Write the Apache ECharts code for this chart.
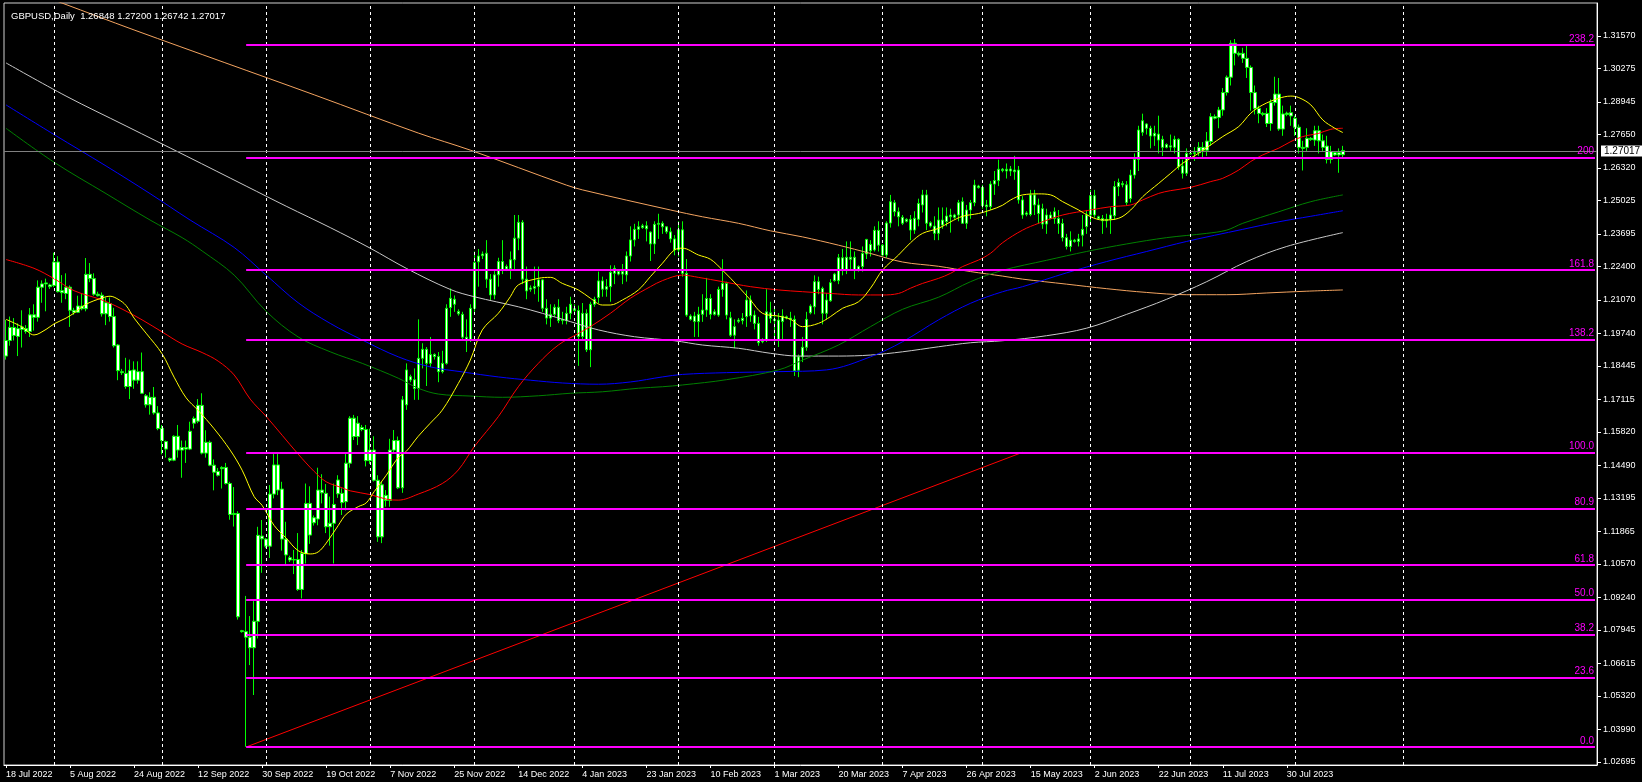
<!DOCTYPE html>
<html><head><meta charset="utf-8">
<script src="https://cdn.jsdelivr.net/npm/echarts@6/dist/echarts.min.js"></script>
<style>html,body{margin:0;padding:0;background:#000;}#c{width:1642px;height:782px;}</style>
</head><body><div id="c"></div>
<script>
// ---------- data ----------
const startDate = '2022-07-18';
const skipDates = ['2022-12-25','2023-01-01','2023-06-18'];
const totalSlots = 398;
const gridSlotsShown = 360;
const titleText = 'GBPUSD,Daily  1.26848 1.27200 1.26742 1.27017';
const lastPrice = 1.27017;
const yTicks = [1.02695,1.03990,1.05320,1.06615,1.07945,1.09240,1.10570,1.11865,1.13195,1.14490,1.15820,1.17115,1.18445,1.19740,1.21070,1.22400,1.23695,1.25025,1.26320,1.27650,1.28945,1.30275,1.31570];
const fibLevels = [0, 23.6, 38.2, 50, 61.8, 80.9, 100, 138.2, 161.8, 200, 238.2];
const fibLabels = ['0.0','23.6','38.2','50.0','61.8','80.9','100.0','138.2','161.8','200','238.2'];
const fibLow = 1.03292, fibHigh = 1.15013;
const fibStartIdx = 60, fibEndIdx = 254;

// [open, close, low, high]
const candles = [
[1.1884,1.1946,1.1870,1.2028],[1.1946,1.1998,1.1925,1.2041],[1.1998,1.1966,1.1946,1.2035],[1.1962,1.1993,1.1884,1.2014],[1.1990,1.2000,1.1918,1.2066],[1.1993,1.1982,1.1973,1.2007],
[1.1982,1.2048,1.1960,1.2075],[1.2048,1.2038,1.1985,1.2090],[1.2038,1.2158,1.2021,1.2185],[1.2158,1.2171,1.2096,1.2185],[1.2171,1.2175,1.2062,1.2192],[1.2167,1.2160,1.2151,1.2172],
[1.2165,1.2258,1.2158,1.2295],[1.2258,1.2140,1.2137,1.2281],[1.2136,1.2144,1.2096,1.2206],[1.2133,1.2158,1.2110,1.2213],[1.2158,1.2066,1.2000,1.2165],[1.2066,1.2058,1.2048,1.2076],
[1.2058,1.2083,1.2055,1.2124],[1.2083,1.2072,1.2066,1.2131],[1.2072,1.2209,1.2062,1.2274],[1.2209,1.2192,1.2178,1.2254],[1.2192,1.2130,1.2124,1.2213],[1.2130,1.2124,1.2121,1.2140],
[1.2126,1.2052,1.2041,1.2137],[1.2052,1.2096,1.2007,1.2117],[1.2093,1.2041,1.2021,1.2117],[1.2041,1.1925,1.1918,1.2076],[1.1928,1.1826,1.1788,1.1932],[1.1822,1.1818,1.1809,1.1833],
[1.1815,1.1763,1.1754,1.1877],[1.1763,1.1826,1.1713,1.1870],[1.1829,1.1788,1.1754,1.1863],[1.1788,1.1822,1.1774,1.1863],[1.1822,1.1736,1.1733,1.1898],[1.1726,1.1690,1.1679,1.1733],
[1.1690,1.1720,1.1651,1.1740],[1.1720,1.1658,1.1651,1.1761],[1.1658,1.1596,1.1589,1.1685],[1.1596,1.1548,1.1493,1.1610],[1.1544,1.1514,1.1480,1.1548],[1.1477,1.1470,1.1463,1.1480],
[1.1470,1.1565,1.1466,1.1569],[1.1565,1.1510,1.1480,1.1610],[1.1510,1.1520,1.1400,1.1548],[1.1520,1.1514,1.1459,1.1548],[1.1514,1.1585,1.1510,1.1623],[1.1617,1.1636,1.1596,1.1644],
[1.1625,1.1688,1.1617,1.1713],[1.1688,1.1498,1.1493,1.1736],[1.1498,1.1541,1.1480,1.1589],[1.1541,1.1450,1.1446,1.1548],[1.1450,1.1422,1.1350,1.1473],[1.1425,1.1410,1.1405,1.1439],
[1.1436,1.1441,1.1357,1.1446],[1.1441,1.1377,1.1373,1.1459],[1.1377,1.1254,1.1233,1.1384],[1.1254,1.1258,1.1206,1.1363],[1.1258,1.0847,1.0836,1.1267],[1.0792,1.0788,1.0784,1.0795],
[1.0788,1.0766,1.0330,1.0930],[1.0766,1.0724,1.0655,1.0850],[1.0724,1.0829,1.0536,1.0914],[1.0829,1.1171,1.0761,1.1205],[1.1157,1.1168,1.1022,1.1232],[1.1156,1.1128,1.1120,1.1160],
[1.1128,1.1335,1.1081,1.1371],[1.1335,1.1451,1.1318,1.1497],[1.1451,1.1351,1.1331,1.1497],[1.1355,1.1156,1.1110,1.1384],[1.1156,1.1093,1.1057,1.1225],[1.1082,1.1073,1.1065,1.1090],
[1.1075,1.1073,1.1017,1.1113],[1.1075,1.0956,1.0950,1.1180],[1.0956,1.1099,1.0920,1.1113],[1.1099,1.1298,1.1059,1.1377],[1.1298,1.1172,1.1137,1.1366],[1.1221,1.1241,1.1210,1.1250],
[1.1236,1.1351,1.1211,1.1440],[1.1351,1.1340,1.1298,1.1414],[1.1338,1.1205,1.1180,1.1375],[1.1205,1.1219,1.1130,1.1325],[1.1219,1.1294,1.1059,1.1377],[1.1336,1.1391,1.1320,1.1410],
[1.1338,1.1301,1.1252,1.1358],[1.1305,1.1458,1.1270,1.1497],[1.1458,1.1637,1.1440,1.1645],[1.1637,1.1564,1.1550,1.1650],[1.1564,1.1617,1.1530,1.1645],[1.1600,1.1592,1.1585,1.1610],
[1.1592,1.1468,1.1445,1.1610],[1.1468,1.1510,1.1455,1.1595],[1.1510,1.1390,1.1385,1.1565],[1.1390,1.1165,1.1145,1.1410],[1.1165,1.1372,1.1140,1.1385],[1.1330,1.1310,1.1285,1.1351],
[1.1310,1.1510,1.1285,1.1555],[1.1510,1.1548,1.1495,1.1590],[1.1548,1.1360,1.1355,1.1564],[1.1360,1.1710,1.1340,1.1725],[1.1690,1.1829,1.1670,1.1855],[1.1802,1.1789,1.1780,1.1810],
[1.1790,1.1755,1.1710,1.1835],[1.1755,1.1875,1.1710,1.2030],[1.1875,1.1911,1.1835,1.1935],[1.1911,1.1855,1.1765,1.1920],[1.1855,1.1890,1.1840,1.1960],[1.1890,1.1882,1.1870,1.1895],
[1.1882,1.1822,1.1780,1.1900],[1.1822,1.1855,1.1815,1.1905],[1.1855,1.2074,1.1850,1.2090],[1.2077,1.2114,1.2040,1.2153],[1.2110,1.2090,1.2060,1.2125],[1.2061,1.2052,1.2045,1.2070],
[1.2050,1.1959,1.1945,1.2060],[1.1959,1.1945,1.1900,1.2030],[1.1946,1.2074,1.1940,1.2090],[1.2074,1.2256,1.2060,1.2300],[1.2259,1.2282,1.2160,1.2310],[1.2283,1.2290,1.2270,1.2300],
[1.2293,1.2190,1.2155,1.2345],[1.2190,1.2127,1.2105,1.2210],[1.2127,1.2207,1.2110,1.2230],[1.2207,1.2260,1.2160,1.2275],[1.2260,1.2227,1.2210,1.2345],[1.2240,1.2230,1.2222,1.2248],
[1.2231,1.2267,1.2190,1.2300],[1.2267,1.2353,1.2225,1.2445],[1.2353,1.2416,1.2305,1.2445],[1.2416,1.2190,1.2170,1.2425],[1.2190,1.2143,1.2110,1.2240],[1.2150,1.2155,1.2140,1.2165],
[1.2154,1.2161,1.2130,1.2240],[1.2161,1.2187,1.2100,1.2240],[1.2187,1.2074,1.2060,1.2190],[1.2074,1.2035,1.2010,1.2110],[1.2035,1.2050,1.2000,1.2090],
[1.2050,1.2078,1.2040,1.2090],[1.2078,1.2025,1.2015,1.2110],[1.2025,1.2030,1.2010,1.2060],[1.2025,1.2054,1.2010,1.2080],[1.2054,1.2090,1.2030,1.2120],
[1.2072,1.2065,1.2050,1.2090],[1.2065,1.1962,1.1845,1.2085],[1.1962,1.2054,1.1950,1.2095],[1.2054,1.1909,1.1900,1.2070],[1.1909,1.2090,1.1840,1.2100],[1.2090,1.2110,1.2080,1.2120],
[1.2117,1.2183,1.2095,1.2220],[1.2183,1.2150,1.2120,1.2200],[1.2150,1.2160,1.2120,1.2190],[1.2160,1.2217,1.2100,1.2245],[1.2213,1.2233,1.2170,1.2245],[1.2220,1.2210,1.2205,1.2230],
[1.2210,1.2220,1.2170,1.2250],[1.2207,1.2282,1.2180,1.2300],[1.2282,1.2346,1.2260,1.2400],[1.2346,1.2388,1.2320,1.2410],[1.2388,1.2398,1.2350,1.2420],[1.2395,1.2402,1.2390,1.2410],
[1.2402,1.2390,1.2340,1.2420],[1.2377,1.2330,1.2262,1.2380],[1.2330,1.2408,1.2290,1.2420],[1.2408,1.2412,1.2350,1.2450],[1.2412,1.2398,1.2370,1.2420],[1.2398,1.2378,1.2370,1.2400],
[1.2378,1.2350,1.2335,1.2395],[1.2350,1.2306,1.2285,1.2365],[1.2306,1.2386,1.2280,1.2420],[1.2386,1.2213,1.2200,1.2420],[1.2213,1.2047,1.2040,1.2270],[1.2043,1.2030,1.2025,1.2050],
[1.2043,1.2021,1.1960,1.2060],[1.2021,1.2050,1.1960,1.2080],[1.2050,1.2067,1.2020,1.2130],[1.2067,1.2113,1.2040,1.2195],[1.2113,1.2050,1.2030,1.2130],[1.2060,1.2050,1.2045,1.2070],
[1.2047,1.2149,1.2040,1.2160],[1.2149,1.2173,1.2120,1.2269],[1.2173,1.2047,1.2030,1.2180],[1.2036,1.1967,1.1960,1.2060],[1.1967,1.2001,1.1915,1.2030],[1.2027,1.2022,1.2015,1.2035],
[1.2025,1.2034,1.2010,1.2055],[1.2041,1.2107,1.2000,1.2145],[1.2107,1.2044,1.2020,1.2125],[1.2047,1.2014,1.1990,1.2065],[1.2014,1.1937,1.1925,1.2040],[1.1948,1.1941,1.1935,1.1955],
[1.1948,1.2060,1.1940,1.2150],[1.2056,1.2034,1.2015,1.2100],[1.2030,1.2025,1.1930,1.2080],[1.2027,1.1948,1.1920,1.2055],[1.2021,1.2043,1.1950,1.2070],[1.2040,1.2035,1.2030,1.2045],
[1.2035,1.2030,1.2000,1.2060],[1.2030,1.1825,1.1805,1.2045],[1.1828,1.1881,1.1800,1.1890],[1.1881,1.1919,1.1860,1.1960],[1.1919,1.2030,1.1905,1.2060],[1.2056,1.2083,1.2050,1.2090],
[1.2080,1.2180,1.2050,1.2205],[1.2180,1.2149,1.2130,1.2200],[1.2153,1.2054,1.2010,1.2160],[1.2054,1.2107,1.2030,1.2135],[1.2104,1.2176,1.2100,1.2190],[1.2184,1.2210,1.2180,1.2215],
[1.2184,1.2275,1.2170,1.2290],[1.2275,1.2224,1.2205,1.2310],[1.2224,1.2277,1.2210,1.2340],[1.2277,1.2269,1.2230,1.2340],[1.2277,1.2224,1.2190,1.2300],[1.2240,1.2224,1.2220,1.2245],
[1.2240,1.2292,1.2220,1.2320],[1.2290,1.2348,1.2270,1.2350],[1.2328,1.2303,1.2280,1.2345],[1.2306,1.2384,1.2300,1.2400],[1.2384,1.2325,1.2300,1.2420],[1.2325,1.2286,1.2280,1.2330],
[1.2286,1.2413,1.2275,1.2420],[1.2413,1.2498,1.2395,1.2525],[1.2494,1.2458,1.2440,1.2505],[1.2458,1.2438,1.2400,1.2475],[1.2436,1.2412,1.2405,1.2445],[1.2420,1.2428,1.2415,1.2432],
[1.2428,1.2385,1.2345,1.2445],[1.2385,1.2432,1.2370,1.2460],[1.2428,1.2491,1.2400,1.2510],[1.2485,1.2525,1.2455,1.2545],[1.2525,1.2412,1.2385,1.2545],[1.2414,1.2401,1.2395,1.2420],
[1.2401,1.2372,1.2345,1.2440],[1.2372,1.2425,1.2345,1.2475],[1.2425,1.2405,1.2390,1.2475],[1.2419,1.2441,1.2400,1.2475],[1.2438,1.2445,1.2375,1.2470],[1.2445,1.2436,1.2430,1.2450],
[1.2445,1.2494,1.2420,1.2505],[1.2498,1.2412,1.2410,1.2515],[1.2412,1.2465,1.2390,1.2485],[1.2465,1.2494,1.2430,1.2505],[1.2494,1.2564,1.2480,1.2585],[1.2560,1.2554,1.2550,1.2565],
[1.2555,1.2482,1.2470,1.2565],[1.2485,1.2478,1.2440,1.2505],[1.2478,1.2568,1.2465,1.2580],[1.2568,1.2582,1.2525,1.2620],[1.2582,1.2627,1.2560,1.2665],[1.2627,1.2622,1.2615,1.2632],
[1.2627,1.2620,1.2590,1.2650],[1.2620,1.2628,1.2600,1.2640],[1.2624,1.2617,1.2585,1.2680],[1.2624,1.2505,1.2490,1.2640],[1.2505,1.2445,1.2430,1.2520],[1.2453,1.2448,1.2440,1.2460],
[1.2447,1.2525,1.2440,1.2545],[1.2525,1.2485,1.2445,1.2545],[1.2485,1.2451,1.2410,1.2510],[1.2470,1.2409,1.2390,1.2490],[1.2409,1.2445,1.2370,1.2470],[1.2445,1.2431,1.2428,1.2458],
[1.2431,1.2458,1.2410,1.2475],[1.2431,1.2411,1.2370,1.2465],[1.2411,1.2355,1.2340,1.2430],[1.2355,1.2320,1.2308,1.2370],[1.2320,1.2345,1.2300,1.2380],[1.2345,1.2340,1.2335,1.2350],
[1.2340,1.2350,1.2320,1.2370],[1.2365,1.2388,1.2320,1.2445],[1.2399,1.2445,1.2370,1.2465],[1.2445,1.2522,1.2410,1.2545],[1.2522,1.2445,1.2435,1.2545],[1.2438,1.2430,1.2425,1.2442],
[1.2431,1.2422,1.2370,1.2445],[1.2422,1.2428,1.2395,1.2450],[1.2428,1.2445,1.2370,1.2475],[1.2442,1.2558,1.2425,1.2580],[1.2558,1.2574,1.2520,1.2590],[1.2570,1.2565,1.2555,1.2580],
[1.2565,1.2495,1.2485,1.2580],[1.2511,1.2604,1.2495,1.2625],[1.2604,1.2666,1.2590,1.2690],[1.2666,1.2783,1.2620,1.2800],[1.2774,1.2820,1.2760,1.2848],
[1.2807,1.2790,1.2765,1.2810],[1.2790,1.2759,1.2710,1.2800],[1.2759,1.2770,1.2720,1.2800],[1.2767,1.2743,1.2690,1.2840],[1.2746,1.2714,1.2680,1.2760],[1.2714,1.2725,1.2710,1.2730],
[1.2720,1.2715,1.2700,1.2765],[1.2714,1.2746,1.2690,1.2760],[1.2746,1.2637,1.2625,1.2750],[1.2640,1.2611,1.2590,1.2665],[1.2611,1.2690,1.2600,1.2710],[1.2690,1.2688,1.2685,1.2695],
[1.2690,1.2693,1.2660,1.2715],[1.2693,1.2714,1.2680,1.2735],[1.2714,1.2703,1.2675,1.2735],[1.2703,1.2739,1.2680,1.2775],[1.2737,1.2836,1.2720,1.2850],[1.2836,1.2830,1.2825,1.2845],
[1.2833,1.2863,1.2790,1.2875],[1.2863,1.2932,1.2840,1.2950],[1.2932,1.2993,1.2920,1.3000],[1.2993,1.3128,1.2960,1.3140],[1.3128,1.3088,1.3040,1.3145],[1.3088,1.3082,1.3075,1.3095],
[1.3088,1.3068,1.3050,1.3110],[1.3068,1.3032,1.2990,1.3120],[1.3032,1.2932,1.2860,1.3040],[1.2932,1.2869,1.2845,1.2960],[1.2869,1.2849,1.2810,1.2880],[1.2849,1.2845,1.2838,1.2855],
[1.2849,1.2809,1.2795,1.2870],[1.2809,1.2892,1.2780,1.2905],[1.2892,1.2926,1.2880,1.2995],[1.2926,1.2787,1.2780,1.2990],[1.2787,1.2847,1.2760,1.2880],[1.2850,1.2845,1.2838,1.2856],
[1.2839,1.2852,1.2800,1.2880],[1.2830,1.2794,1.2760,1.2840],[1.2794,1.2714,1.2690,1.2805],[1.2714,1.2710,1.2622,1.2740],[1.2714,1.2750,1.2700,1.2790],[1.2750,1.2745,1.2740,1.2755],
[1.2743,1.2780,1.2720,1.2800],[1.2780,1.2740,1.2690,1.2800],[1.2740,1.2714,1.2700,1.2765],[1.2719,1.2666,1.2650,1.2760],[1.2666,1.2697,1.2650,1.2720],[1.2693,1.2684,1.2680,1.2698],
[1.2684,1.2693,1.2613,1.2710],[1.26848,1.27017,1.26742,1.27200]
];

// moving averages: [bar index, value]
const maYellow = [[0,1.2030],[4,1.2000],[7,1.1968],[10,1.1990],[12,1.2012],[15,1.2035],[17,1.2055],[20,1.2090],[24,1.2115],[26,1.2122],[28,1.2110],[30,1.2085],[32,1.2035],[35,1.1975],[39,1.1893],[42,1.1800],[45,1.1718],[48,1.1668],[52,1.1595],[56,1.1510],[59,1.1430],[62,1.1325],[64,1.1290],[67,1.1210],[70,1.1160],[73,1.1110],[76,1.1097],[78,1.1105],[80,1.1140],[83,1.1210],[85,1.1255],[88,1.1285],[90,1.1300],[92,1.1345],[95,1.1410],[98,1.1480],[100,1.1505],[103,1.1565],[106,1.1617],[109,1.1669],[113,1.1775],[116,1.1868],[119,1.1988],[123,1.2054],[126,1.2120],[128,1.2167],[133,1.2193],[136,1.2197],[139,1.2173],[143,1.2147],[146,1.2114],[149,1.2087],[151,1.2087],[154,1.2107],[158,1.2147],[161,1.2200],[164,1.2253],[167,1.2306],[169,1.2313],[173,1.2286],[176,1.2269],[179,1.2226],[183,1.2160],[186,1.2107],[189,1.2054],[193,1.2043],[196,1.2030],[199,1.2001],[203,1.2014],[206,1.2041],[209,1.2074],[213,1.2100],[216,1.2154],[219,1.2226],[223,1.2286],[226,1.2335],[229,1.2372],[233,1.2392],[236,1.2418],[239,1.2440],[243,1.2451],[246,1.2465],[249,1.2484],[251,1.2505],[254,1.2525],[258,1.2529],[261,1.2525],[264,1.2498],[268,1.2465],[271,1.2438],[274,1.2425],[278,1.2432],[281,1.2465],[284,1.2518],[288,1.2571],[291,1.2611],[294,1.2651],[298,1.2691],[301,1.2724],[304,1.2757],[308,1.2797],[311,1.2850],[314,1.2883],[318,1.2909],[321,1.2918],[323,1.2912],[326,1.2883],[329,1.2823],[332,1.2790],[334,1.2773]];
const maRed = [[0,1.2268],[7,1.2233],[12,1.2192],[17,1.2144],[24,1.2107],[29,1.2071],[34,1.2028],[39,1.1980],[44,1.1932],[49,1.1898],[53,1.1864],[57,1.1809],[61,1.1713],[65,1.1644],[69,1.1569],[73,1.1494],[77,1.1425],[80,1.1384],[84,1.1360],[86,1.1348],[91,1.1333],[95,1.1315],[98,1.1311],[103,1.1335],[109,1.1377],[113,1.1431],[117,1.1524],[123,1.1643],[128,1.1762],[133,1.1855],[138,1.1928],[143,1.1974],[146,1.2001],[151,1.2054],[156,1.2114],[161,1.2160],[164,1.2184],[169,1.2206],[173,1.2197],[179,1.2180],[186,1.2160],[193,1.2147],[199,1.2140],[206,1.2133],[213,1.2127],[219,1.2127],[223,1.2133],[226,1.2154],[229,1.2173],[233,1.2193],[236,1.2213],[239,1.2240],[243,1.2266],[246,1.2293],[249,1.2335],[254,1.2385],[258,1.2412],[264,1.2445],[271,1.2465],[276,1.2478],[281,1.2485],[284,1.2505],[288,1.2531],[291,1.2542],[296,1.2555],[301,1.2578],[304,1.2591],[308,1.2624],[311,1.2658],[314,1.2684],[318,1.2711],[321,1.2737],[324,1.2757],[328,1.2770],[331,1.2786],[334,1.2790]];
const maGreen = [[0,1.2790],[12,1.2655],[25,1.2530],[36,1.2425],[44,1.2355],[49,1.2302],[57,1.2206],[65,1.2062],[73,1.1960],[81,1.1901],[89,1.1855],[98,1.1796],[103,1.1756],[108,1.1733],[116,1.1725],[124,1.1720],[133,1.1726],[141,1.1736],[149,1.1742],[158,1.1756],[164,1.1762],[169,1.1769],[180,1.1790],[193,1.1829],[199,1.1868],[208,1.1928],[216,1.2001],[224,1.2070],[233,1.2118],[241,1.2180],[249,1.2225],[260,1.2265],[270,1.2300],[280,1.2330],[290,1.2355],[300,1.2372],[305,1.2385],[309,1.2412],[318,1.2458],[326,1.2498],[334,1.2525]];
const maBlue = [[0,1.2883],[12,1.2765],[25,1.2640],[36,1.2530],[46,1.2425],[57,1.2316],[65,1.2206],[73,1.2096],[81,1.2014],[89,1.1948],[98,1.1881],[106,1.1841],[114,1.1821],[123,1.1801],[131,1.1788],[139,1.1777],[148,1.1772],[156,1.1781],[164,1.1801],[169,1.1811],[180,1.1818],[193,1.1822],[205,1.1829],[216,1.1881],[224,1.1941],[233,1.2028],[241,1.2094],[249,1.2140],[254,1.2160],[265,1.2215],[275,1.2260],[285,1.2300],[295,1.2340],[309,1.2388],[318,1.2418],[326,1.2440],[334,1.2462]];
const maWhite = [[0,1.3050],[15,1.2918],[30,1.2799],[45,1.2680],[60,1.2560],[70,1.2480],[81,1.2395],[91,1.2313],[100,1.2233],[111,1.2149],[117,1.2120],[128,1.2080],[134,1.2054],[141,1.2021],[148,1.1988],[157,1.1961],[167,1.1945],[174,1.1928],[183,1.1915],[191,1.1895],[198,1.1884],[208,1.1884],[216,1.1888],[224,1.1901],[233,1.1921],[241,1.1937],[249,1.1945],[260,1.1965],[270,1.1995],[280,1.2050],[290,1.2110],[300,1.2180],[310,1.2260],[320,1.2320],[334,1.2375]];
const maOrange = [[0,1.3370],[14,1.3288],[32,1.3181],[77,1.2923],[103,1.2771],[116,1.2703],[140,1.2564],[144,1.2545],[166,1.2465],[174,1.2438],[183,1.2412],[191,1.2382],[199,1.2358],[208,1.2325],[216,1.2292],[224,1.2258],[233,1.2241],[241,1.2220],[249,1.2202],[254,1.2190],[265,1.2170],[275,1.2152],[285,1.2137],[295,1.2128],[305,1.2128],[315,1.2135],[325,1.2142],[334,1.2147]];

// ---------- build ----------
const MONTHS = ['Jan','Feb','Mar','Apr','May','Jun','Jul','Aug','Sep','Oct','Nov','Dec'];
const dates = [];
(function(){
  let t = Date.parse(startDate + 'T00:00:00Z');
  while (dates.length < totalSlots) {
    const d = new Date(t);
    const iso = d.toISOString().slice(0,10);
    if (d.getUTCDay() !== 6 && skipDates.indexOf(iso) < 0) dates.push(iso);
    t += 86400000;
  }
})();
const lastBar = candles.length - 1;
const fmtDate = iso => { const p = iso.split('-'); return (+p[2]) + ' ' + MONTHS[+p[1]-1] + ' ' + p[0]; };
const monthStarts = [];
for (let i = 1; i < gridSlotsShown; i++) if (dates[i].slice(0,7) !== dates[i-1].slice(0,7)) monthStarts.push(i);
const fibPrice = lv => fibLow + lv / 100 * (fibHigh - fibLow);
const maData = arr => arr.map(p => [dates[p[0]], p[1]]);
const FONT = 'Liberation Sans';

const maSeries = (arr, color) => ({
  type: 'line', data: maData(arr), symbol: 'none', smooth: 0.35, z: 4, silent: true, clip: true,
  lineStyle: { color: color, width: 1 }
});

const chart = echarts.init(document.getElementById('c'), null, { renderer: 'canvas' });
chart.setOption({
  backgroundColor: '#000000',
  animation: false,
  title: { text: titleText, left: 6, top: 6, textStyle: { color: '#ffffff', fontSize: 9.5, fontWeight: 'normal', fontFamily: FONT } },
  grid: { left: 4, right: 45, top: 3, bottom: 17, show: true, borderColor: '#d0d0d0', borderWidth: 1, backgroundColor: 'transparent' },
  xAxis: {
    type: 'category', data: dates, boundaryGap: true,
    axisLine: { lineStyle: { color: '#ffffff' } },
    axisTick: { show: true, alignWithLabel: true, length: 3, lineStyle: { color: '#ffffff' },
      interval: (i) => i % 16 === 0 && i <= lastBar },
    axisLabel: { interval: 15, align: 'left', margin: 5, color: '#ffffff', fontSize: 9, fontFamily: FONT,
      showMinLabel: true, showMaxLabel: false,
      formatter: (v) => (dates.indexOf(v) <= lastBar ? fmtDate(v) : '') },
    splitLine: { show: false }
  },
  yAxis: {
    type: 'value', position: 'right', min: 1.02576, max: 1.32882, scale: true,
    axisLine: { show: true, lineStyle: { color: '#ffffff' } },
    axisTick: { show: true, length: 4, customValues: yTicks, lineStyle: { color: '#ffffff' } },
    axisLabel: { customValues: yTicks, margin: 6, color: '#ffffff', fontSize: 9, fontFamily: FONT, formatter: v => v.toFixed(5) },
    splitLine: { show: false }
  },
  series: [
    { // month grid
      type: 'line', data: [], z: 1, silent: true,
      markLine: { symbol: ['none','none'], silent: true, animation: false, label: { show: false },
        lineStyle: { color: '#ffffff', width: 1, type: [3, 3] },
        data: monthStarts.map(i => ({ xAxis: dates[i] })) }
    },
    { // current price line
      type: 'line', data: [], z: 2, silent: true,
      markLine: { symbol: ['none','none'], silent: true, animation: false,
        lineStyle: { color: '#808080', width: 1, type: 'solid' },
        label: { show: true, position: 'end', distance: 4, formatter: lastPrice.toFixed(5), color: '#000000', backgroundColor: '#ffffff',
          padding: [1, 3, 0, 3], fontSize: 10, fontFamily: FONT },
        data: [{ yAxis: lastPrice }] }
    },
    { // fibonacci levels
      type: 'line', data: [], z: 2, silent: true,
      markLine: { symbol: ['none','none'], silent: true, animation: false,
        lineStyle: { color: '#ff00ff', width: 2, type: 'solid' },
        label: { show: true, position: 'insideEndTop', distance: 1, color: '#ff00ff', fontSize: 10, fontFamily: FONT },
        data: fibLevels.map((lv, k) => [
          { coord: [dates[fibStartIdx], fibPrice(lv)], label: { formatter: fibLabels[k] } },
          { coord: [dates[totalSlots - 1], fibPrice(lv)] }
        ]) }
    },
    { // fibonacci trend line
      type: 'line', z: 2, silent: true, symbol: 'none',
      data: [[dates[fibStartIdx], fibLow], [dates[fibEndIdx], fibHigh]],
      lineStyle: { color: '#ff0000', width: 1 }
    },
    {
      type: 'candlestick', z: 3, silent: true, barWidth: 3,
      data: candles,
      itemStyle: { color: '#ffffff', color0: '#ffffff', borderColor: '#00ff00', borderColor0: '#00ff00', borderWidth: 1 }
    },
    maSeries(maOrange, '#f4a460'),
    maSeries(maWhite, '#c8c8c8'),
    maSeries(maBlue, '#0000ff'),
    maSeries(maGreen, '#008000'),
    maSeries(maRed, '#ff0000'),
    maSeries(maYellow, '#ffff00')
  ]
});
</script>
</body></html>
